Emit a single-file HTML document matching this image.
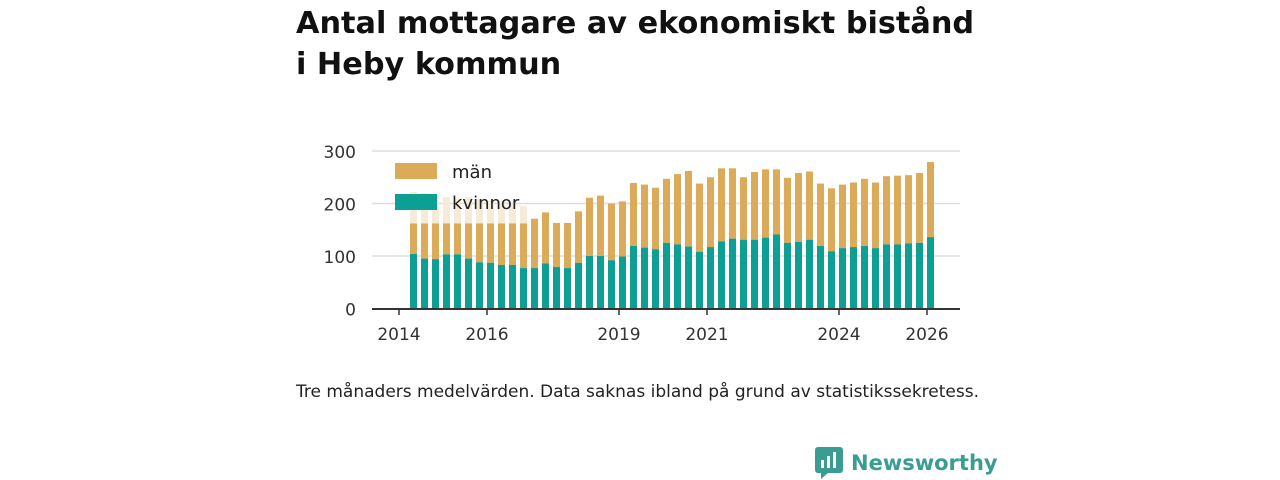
<!DOCTYPE html>
<html><head><meta charset="utf-8"><style>
body{margin:0;width:1280px;height:480px;background:#fff;font-family:"DejaVu Sans",sans-serif;position:relative;overflow:hidden}
h1{position:absolute;left:296px;top:3px;margin:0;font-size:30.3px;line-height:41px;font-weight:bold;color:#111;white-space:nowrap}
.note{position:absolute;left:296px;top:382px;font-size:17px;color:#222;white-space:nowrap}
.logo{position:absolute;left:815px;top:447px;display:flex;align-items:center;gap:8px;color:#3a9d93;font-size:21px;font-weight:bold}
</style></head><body>
<h1>Antal mottagare av ekonomiskt bistånd<br>i Heby kommun</h1>
<svg id="c" width="1280" height="480" style="position:absolute;left:0;top:0"></svg>
<div class="note">Tre månaders medelvärden. Data saknas ibland på grund av statistikssekretess.</div>
<div class="logo"><svg width="28" height="32"><rect x="0" y="0" width="28" height="26" rx="3" fill="#3a9d93"/><path d="M6 26 L6 32 L13 26Z" fill="#3a9d93"/><rect x="6" y="13" width="3" height="8" fill="#fff"/><rect x="12" y="9" width="3" height="12" fill="#fff"/><rect x="18" y="5" width="3" height="16" fill="#fff"/></svg><span>Newsworthy</span></div>
<script>
const kvinnor=[104,95,94,103,103,95,88,87,83,83,77,77,86,79,77,87,100,100,92,99,119,116,113,125,122,118,108,117,128,133,131,131,135,141,125,127,131,119,109,115,117,119,115,122,122,124,125,136];
const totals=[162,162,162,162,162,162,162,162,162,162,162,171,183,163,163,185,211,215,200,204,239,236,230,247,256,262,238,250,267,267,250,260,265,265,249,258,261,238,229,236,240,247,240,252,253,254,258,279];
const faint=[222,220,215,212,210,212,208,205,205,200,195,0];
const yTicks=[0,100,200,300];
const xLabels=["2014","2016","2019","2021","2024","2026"];
const xLabelYears=[2014,2016,2019,2021,2024,2026];
const NS="http://www.w3.org/2000/svg",svg=document.getElementById('c');
const y=v=>308.5-v*0.525;
const xYear=yr=>399+(yr-2014)*44;
const xBar=i=>413.5+i*11;
const F='DejaVu Sans';
function el(t,a){const e=document.createElementNS(NS,t);for(const k in a)e.setAttribute(k,a[k]);svg.appendChild(e);return e;}
yTicks.forEach(t=>{if(t>0){const g=el('line',{x1:372,x2:960,y1:y(t),y2:y(t),stroke:'#ddd','stroke-width':1.5});

}
const tx=el('text',{x:356,y:y(t)+7,'text-anchor':'end','font-size':17,fill:'#333','font-family':F});tx.textContent=t;

});
faint.forEach((v,i)=>{if(!v)return;const r=el('rect',{x:xBar(i)-3.5,y:y(v),width:7,height:y(0)-y(v),fill:'#f6ebd9'});

});
totals.forEach((v,i)=>{const m=el('rect',{x:xBar(i)-3.5,y:y(v),width:7,height:y(kvinnor[i])-y(v),fill:'#dbab5a'});


const k=el('rect',{x:xBar(i)-3.5,y:y(kvinnor[i]),width:7,height:y(0)-y(kvinnor[i]),fill:'#0e9f94'});

});
const ax=el('line',{x1:372,x2:960,y1:309,y2:309,stroke:'#333','stroke-width':2});


xLabels.forEach((l,i)=>{const x=xYear(xLabelYears[i]);el('line',{x1:x,x2:x,y1:309,y2:315,stroke:'#333','stroke-width':1.5});
const t=el('text',{x:x,y:340,'text-anchor':'middle','font-size':17,fill:'#333','font-family':F});t.textContent=l;

});
[["män",'#dbab5a',171],["kvinnor",'#0e9f94',202]].forEach(([n,c,yy])=>{const r=el('rect',{x:395,y:yy-8,width:42,height:16,fill:c});


const t=el('text',{x:452,y:yy+7,'font-size':18,fill:'#222','font-family':F});t.textContent=n;

});
</script>
</body></html>
